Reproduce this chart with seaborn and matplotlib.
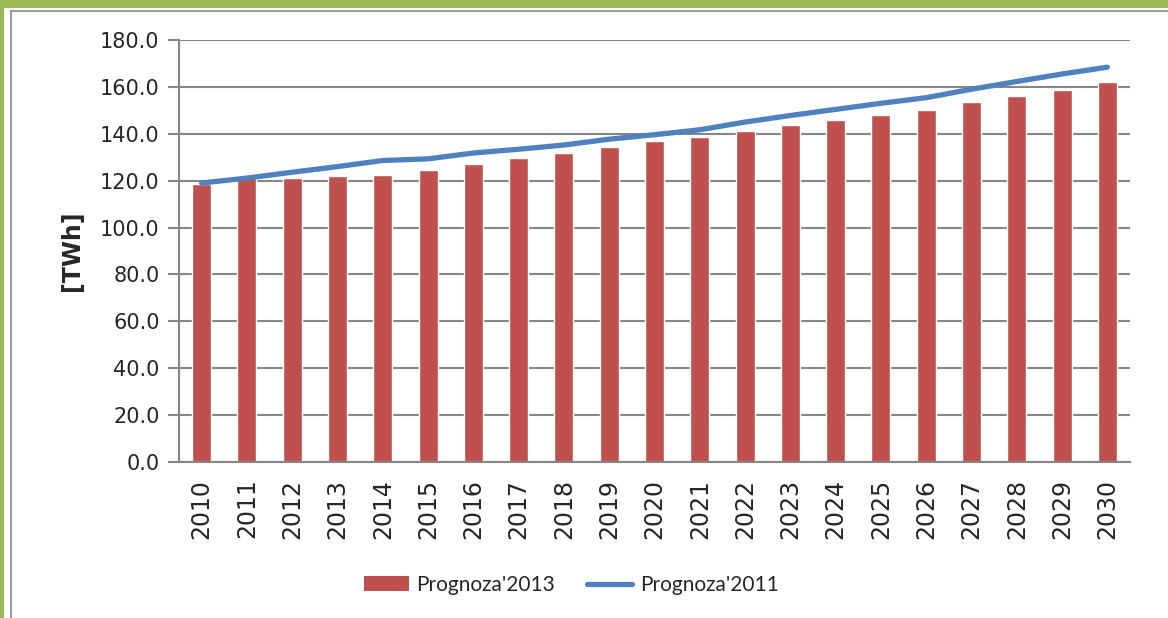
import numpy as np
import pandas as pd
import matplotlib
matplotlib.use("Agg")
import matplotlib.pyplot as plt
import seaborn as sns
from matplotlib.patches import Patch, Rectangle
from matplotlib.lines import Line2D

years = [str(y) for y in range(2010, 2031)]
prognoza_2013 = [118.5, 121.3, 121.1, 121.9, 122.6, 124.4, 126.9, 129.5, 131.9, 134.5,
                 137.0, 138.6, 141.1, 143.6, 146.0, 147.9, 150.2, 153.7, 156.3, 158.7, 162.0]
prognoza_2011 = [119.0, 121.1, 123.6, 126.0, 128.6, 129.3, 131.8, 133.4, 135.2, 137.7,
                 139.6, 141.7, 145.0, 147.8, 150.4, 153.0, 155.4, 159.0, 162.3, 165.5, 168.4]
yticks = [0, 20, 40, 60, 80, 100, 120, 140, 160, 180]

bar_color = "#C0504D"
line_color = "#4F81BD"
grid_color = "#868686"
green = "#9BBB59"

df = pd.DataFrame({"year": years, "p2013": prognoza_2013, "p2011": prognoza_2011})

sns.set_theme(style="white")
plt.rcParams["font.family"] = ["DejaVu Sans"]

fig = plt.figure(figsize=(11.68, 6.18), dpi=100)
ax = fig.add_axes([179 / 1168, 1 - 462 / 618, (1130 - 179) / 1168, (462 - 40) / 618])

# frame decoration (green band, grey inner border)
fig.patches.append(Rectangle((0, 1 - 8 / 618), 1, 8 / 618, transform=fig.transFigure,
                             facecolor=green, edgecolor="none", zorder=0))
fig.patches.append(Rectangle((0, 0), 4 / 1168, 1, transform=fig.transFigure,
                             facecolor=green, edgecolor="none", zorder=0))
fig.add_artist(Line2D([11 / 1168, 11 / 1168], [0, 1 - 11 / 618], transform=fig.transFigure,
                      color="#9a9a9a", lw=1.5))
fig.add_artist(Line2D([11 / 1168, 1], [1 - 11 / 618, 1 - 11 / 618], transform=fig.transFigure,
                      color="#9a9a9a", lw=1.5))

sns.barplot(data=df, x="year", y="p2013", color=bar_color, width=0.42,
            saturation=1, ax=ax, zorder=2)
sns.lineplot(data=df, x="year", y="p2011", color=line_color, lw=3.8,
             ax=ax, zorder=3, sort=False)
for line in ax.lines:
    line.set_solid_capstyle("round")

ax.set_xlim(-0.5, len(years) - 0.5)
ax.set_ylim(0, 180)
ax.set_yticks(yticks)
ax.set_yticklabels([f"{v:.1f}" for v in yticks], fontsize=15)
ax.yaxis.grid(True, color=grid_color, lw=1.5, zorder=0)
ax.set_axisbelow(True)

ax.set_xticks(range(len(years)))
ax.set_xticklabels(years, rotation=90, fontsize=17)
ax.set_xticks(np.arange(len(years) + 1) - 0.5, minor=True)
ax.tick_params(axis="x", which="major", length=0, pad=12)
ax.tick_params(axis="x", which="minor", length=8, width=1.5, color=grid_color, direction="out")
ax.tick_params(axis="y", length=8, width=1.5, color=grid_color, direction="out", pad=6, left=True)

for side in ["top", "right"]:
    ax.spines[side].set_visible(False)
for side in ["left", "bottom"]:
    ax.spines[side].set_color(grid_color)
    ax.spines[side].set_linewidth(1.5)

ax.set_xlabel("")
ax.set_ylabel("[TWh]", fontsize=17, fontweight="bold")
ax.yaxis.set_label_coords(-0.10, 0.5)

handles = [Patch(facecolor=bar_color, edgecolor="none"),
           Line2D([0], [0], color=line_color, lw=3.8, solid_capstyle="round")]
fig.legend(handles, ["Prognoza'2013", "Prognoza'2011"], loc="center",
           bbox_to_anchor=(571 / 1168, 1 - 585 / 618), ncol=2, frameon=False,
           prop={"family": "Lato", "size": 15}, handlelength=2.2, handletextpad=0.35,
           columnspacing=1.5)

fig.savefig("out.png", dpi=100, facecolor="white")
